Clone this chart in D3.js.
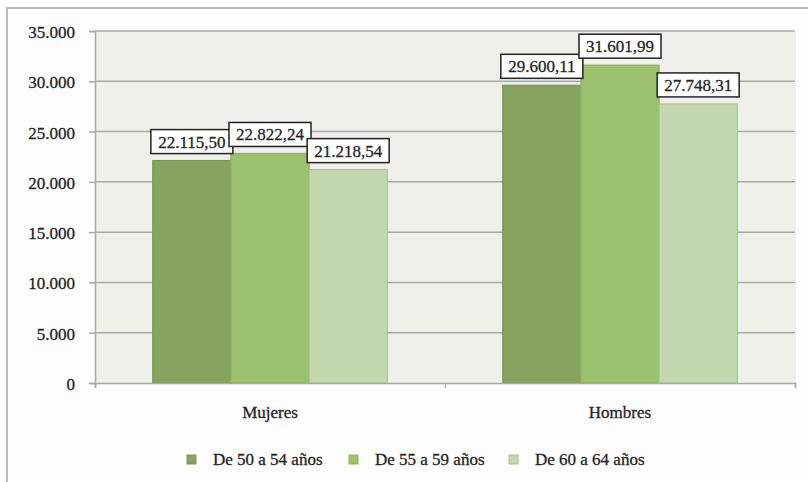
<!DOCTYPE html>
<html>
<head>
<meta charset="utf-8">
<script src="https://cdn.jsdelivr.net/npm/d3@7"></script>
<style>
  html, body { margin: 0; padding: 0; background: #ffffff; }
  svg { display: block; }
  svg text { stroke: #2a2a2a; stroke-width: 0.3px; }
</style>
</head>
<body>
<svg id="chart" width="808" height="482"></svg>
<script>
// Categories, series and values
const categories = ["Mujeres", "Hombres"];
const series = ["De 50 a 54 años", "De 55 a 59 años", "De 60 a 64 años"];
const valuesMujeres = [22115.50, 22822.24, 21218.54];
const valuesHombres = [29600.11, 31601.99, 27748.31];
const yTicks = [0, 5000, 10000, 15000, 20000, 25000, 30000, 35000];

const seriesColors = ["#85a35f", "#9cc16e", "#c3d8af"];
const seriesStroke = ["#7a9955", "#8db35f", "#a9c393"];

const valuesByCategory = { "Mujeres": valuesMujeres, "Hombres": valuesHombres };

const FONT = "'Liberation Serif', 'Times New Roman', 'DejaVu Serif', serif";

// Spanish number formatting: "." thousands, "," decimals
const es = d3.formatLocale({ decimal: ",", thousands: ".", grouping: [3], currency: ["", " €"] });
const fmtTick = es.format(",.0f");
const fmtVal = es.format(",.2f");

const svg = d3.select("#chart").attr("font-family", FONT);
const plot = { left: 95, right: 795, top: 31, bottom: 383 };

// Outer chart frame
svg.append("rect")
  .attr("x", 7).attr("y", 8).attr("width", 840).attr("height", 520)
  .attr("fill", "#fdfdfd").attr("stroke", "#bdbdbd").attr("stroke-width", 2);

const x0 = d3.scaleBand().domain(categories)
  .range([plot.left, plot.right]).paddingInner(0.33).paddingOuter(0.165);
const x1 = d3.scaleBand().domain(series).range([0, x0.bandwidth()]).padding(0);
const y = d3.scaleLinear().domain([0, 35000]).range([plot.bottom, plot.top]);

// Plot area background
svg.append("rect")
  .attr("x", plot.left).attr("y", plot.top)
  .attr("width", plot.right - plot.left + 1).attr("height", plot.bottom - plot.top)
  .attr("fill", "#eef0e9");

// Horizontal gridlines
svg.append("g").selectAll("line").data(yTicks.filter(d => d > 0)).join("line")
  .attr("x1", plot.left).attr("x2", plot.right)
  .attr("y1", d => y(d)).attr("y2", d => y(d))
  .attr("stroke", "#a8a8a8").attr("stroke-width", 1.5);

// Y axis
const yAxis = d3.axisLeft(y).tickValues(yTicks).tickFormat(fmtTick).tickSize(6).tickPadding(14);
const gy = svg.append("g").attr("transform", `translate(${plot.left},0)`).call(yAxis)
  .attr("font-family", FONT).attr("font-size", 17);
gy.select(".domain").attr("stroke", "#a8a8a8").attr("stroke-width", 1.5);
gy.selectAll(".tick line").attr("stroke", "#a8a8a8").attr("stroke-width", 1.5);
gy.selectAll(".tick text").attr("fill", "#222").attr("dy", "0.38em");

// Bars
const groups = svg.append("g").selectAll("g").data(categories).join("g")
  .attr("transform", d => `translate(${x0(d)},0)`);

groups.selectAll("rect")
  .data(c => series.map((s, i) => ({ s, i, v: valuesByCategory[c][i] })))
  .join("rect")
  .attr("x", d => x1(d.s))
  .attr("y", d => y(d.v))
  .attr("width", x1.bandwidth())
  .attr("height", d => y(0) - y(d.v))
  .attr("fill", d => seriesColors[d.i])
  .attr("stroke", d => seriesStroke[d.i])
  .attr("stroke-width", 1.2);

// X axis (category axis)
const xAxis = d3.axisBottom(d3.scaleLinear().domain([0, 2]).range([plot.left, plot.right]))
  .tickValues([0, 1, 2]).tickFormat("").tickSize(5);
const gx = svg.append("g").attr("transform", `translate(0,${plot.bottom})`).call(xAxis);
gx.select(".domain").attr("stroke", "#a8a8a8").attr("stroke-width", 1.5);
gx.selectAll(".tick line").attr("stroke", "#a8a8a8").attr("stroke-width", 1.5);

svg.append("g").selectAll("text").data(categories).join("text")
  .attr("x", d => x0(d) + x0.bandwidth() / 2)
  .attr("y", 418)
  .attr("text-anchor", "middle")
  .attr("font-family", FONT).attr("font-size", 17).attr("fill", "#222")
  .text(d => d);

// Value labels in boxes
const labelW = 82, labelH = 24;
groups.each(function(c) {
  const g = d3.select(this);
  valuesByCategory[c].forEach((v, i) => {
    const cx = x1(series[i]) + x1.bandwidth() / 2;
    const bottom = y(v) - 7;
    const lg = g.append("g");
    lg.append("rect")
      .attr("x", cx - labelW / 2).attr("y", bottom - labelH)
      .attr("width", labelW).attr("height", labelH)
      .attr("fill", "#ffffff").attr("stroke", "#222").attr("stroke-width", 1.5);
    lg.append("text")
      .attr("x", cx).attr("y", bottom - 6)
      .attr("text-anchor", "middle")
      .attr("font-family", FONT).attr("font-size", 17).attr("fill", "#222")
      .text(fmtVal(v));
  });
});

// Legend
const legendX = [187, 349, 509];
const legend = svg.append("g").selectAll("g").data(series).join("g")
  .attr("transform", (d, i) => `translate(${legendX[i]},455)`);
legend.append("rect")
  .attr("width", 9).attr("height", 9)
  .attr("fill", (d, i) => seriesColors[i])
  .attr("stroke", (d, i) => seriesStroke[i]).attr("stroke-width", 1);
legend.append("text")
  .attr("x", 26).attr("y", 10)
  .attr("font-family", FONT).attr("font-size", 17).attr("fill", "#222")
  .text(d => d);
</script>
</body>
</html>
